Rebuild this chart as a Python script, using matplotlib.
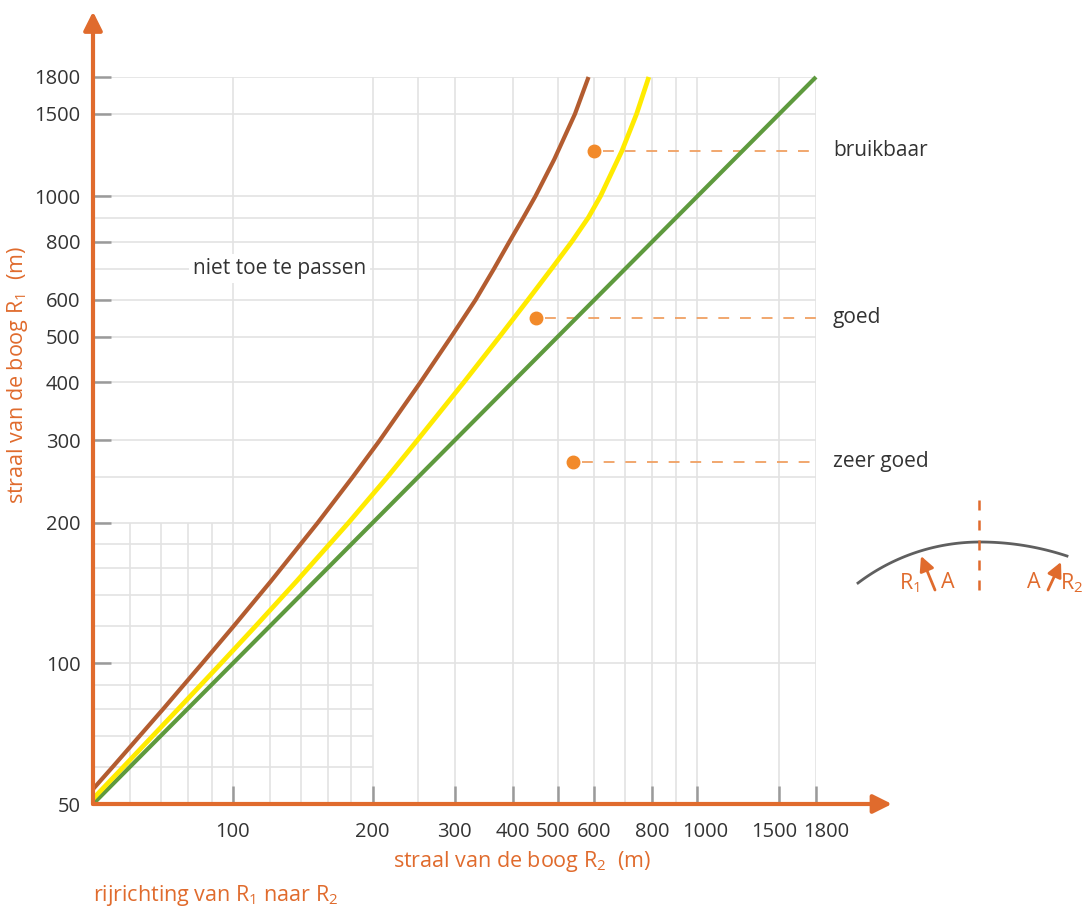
import numpy as np
import matplotlib
matplotlib.use('Agg')
import matplotlib.pyplot as plt
from matplotlib.lines import Line2D
from matplotlib.patches import FancyArrowPatch
from matplotlib.transforms import ScaledTranslation

plt.rcParams['font.family'] = ['Open Sans', 'DejaVu Sans']
plt.rcParams['mathtext.default'] = 'regular'

# data (R2 on x, R1 on y)
green_r2 = [50, 1800]
green_r1 = [50, 1800]

yellow_r1 = [51.3, 60, 80, 100, 120, 150, 200, 250, 300, 400, 500, 600, 700, 800, 900, 1000, 1250, 1500, 1800]
yellow_r2 = [50, 58.1, 76.4, 94.3, 111.8, 137.2, 177.4, 214.7, 249.3, 314.4, 374.8, 431.7, 485.6, 536.9, 582.3, 618.4, 687.7, 739.7, 786]

brown_r1 = [53.8, 60, 80, 100, 120, 150, 200, 250, 300, 400, 500, 600, 700, 800, 900, 1000, 1200, 1500, 1800]
brown_r2 = [50, 55.1, 70.9, 85.9, 100.3, 120.8, 152.3, 180.8, 207, 253.5, 295, 333, 365, 394, 422, 448, 492, 545, 583]

dot_r2 = [600, 450, 540]
dot_r1 = [1250, 550, 270]
dot_labels = ['bruikbaar', 'goed', 'zeer goed']

x_ticks = [100, 200, 300, 400, 500, 600, 800, 1000, 1500, 1800]
y_ticks = [50, 100, 200, 300, 400, 500, 600, 800, 1000, 1500, 1800]
major_grid = [100, 200, 250, 300, 400, 500, 600, 700, 800, 900, 1000, 1500, 1800]
minor_grid = [60, 70, 80, 90, 120, 140, 160, 180]

orange = '#E06B2D'
dot_col = '#F28A2A'
grid_col = '#E3E3E3'
txt_col = '#333333'

W, H = 1085, 910
fig = plt.figure(figsize=(W / 100, H / 100), dpi=100)
ax = fig.add_axes([93 / W, 1 - 804 / H, (816 - 93) / W, (804 - 77) / H])
ax.set_xscale('log')
ax.set_yscale('log')
ax.set_xlim(50, 1800)
ax.set_ylim(50, 1800)

# grid
for g in major_grid:
    ax.hlines(g, 50, 1800, color=grid_col, lw=1.2, zorder=0)
    ax.vlines(g, 50, 1800, color=grid_col, lw=1.2, zorder=0)
for g in minor_grid:
    xe = 250 if g == 160 else 200
    ax.hlines(g, 50, xe, color=grid_col, lw=1.2, zorder=0)
    ax.vlines(g, 50, 200, color=grid_col, lw=1.2, zorder=0)

# curves
kw = dict(solid_capstyle='butt', solid_joinstyle='round', zorder=3, clip_on=False)
ax.plot(green_r2, green_r1, color='#5E9A3E', lw=3.0, **kw)
ax.plot(yellow_r2, yellow_r1, color='#FFEB00', lw=3.4, **kw)
ax.plot(brown_r2, brown_r1, color='#B35C30', lw=3.0, **kw)

# quality points
for x, y, lab in zip(dot_r2, dot_r1, dot_labels):
    ax.plot([x * 1.045, 1800], [y, y], color='#F0A062', lw=1.3, dashes=(6, 6), zorder=2)
    ax.plot(x, y, 'o', color=dot_col, ms=9, zorder=4)
    ax.text(1.0235, y, lab, transform=ax.get_yaxis_transform(), fontsize=15,
            color=txt_col, va='center', ha='left')

ax.text(82, 700, 'niet toe te passen', fontsize=15, color=txt_col, va='center', ha='left',
        bbox=dict(facecolor='white', edgecolor='none', pad=3), zorder=2)

# ticks
ax.minorticks_off()
ax.set_xticks(x_ticks)
ax.set_xticklabels([str(t) for t in x_ticks])
ax.set_yticks(y_ticks)
ax.set_yticklabels([str(t) for t in y_ticks])
ax.tick_params(direction='in', length=13, width=1.8, color='#9A9A9A',
               labelcolor=txt_col, labelsize=14.5)
ax.tick_params(axis='x', pad=13)
ax.tick_params(axis='y', pad=9)

# nudge crowded x labels like the original
shift = {'500': -5, '1000': 8, '1500': -5, '1800': 10}
for lab in ax.get_xticklabels():
    dx = shift.get(lab.get_text(), 0)
    if dx:
        lab.set_transform(lab.get_transform() + ScaledTranslation(dx / 100, 0, fig.dpi_scale_trans))

for s in ax.spines.values():
    s.set_visible(False)

# axes with arrows
ax.annotate('', xy=(1.105, 0), xytext=(0, 0), xycoords='axes fraction',
            arrowprops=dict(arrowstyle='-|>', color=orange, lw=3, mutation_scale=28,
                            shrinkA=0, shrinkB=0))
ax.annotate('', xy=(0, 1.09), xytext=(0, 0), xycoords='axes fraction',
            arrowprops=dict(arrowstyle='-|>', color=orange, lw=3, mutation_scale=28,
                            shrinkA=0, shrinkB=0))

# axis titles
fig.text(522 / W, 1 - 862 / H, 'straal van de boog R$_2$  (m)', color=orange,
         fontsize=15.5, ha='center', va='center')
fig.text(18 / W, 1 - 375 / H, 'straal van de boog R$_1$  (m)', color=orange,
         fontsize=15.5, ha='center', va='center', rotation=90)
fig.text(93 / W, 1 - 896 / H, 'rijrichting van R$_1$ naar R$_2$', color=orange,
         fontsize=15.5, ha='left', va='center')

# small sketch of two bends
def fx(px):
    return px / W

def fy(py):
    return 1 - py / H

ax0, ay0 = 980, 542
r1, r2 = 202, 277
xl = np.linspace(858, ax0, 40)
yl = ay0 + (r1 - np.sqrt(r1 ** 2 - (xl - ax0) ** 2))
xr = np.linspace(ax0, 1067, 30)
yr = ay0 + (r2 - np.sqrt(r2 ** 2 - (xr - ax0) ** 2))
arc_x = np.concatenate([xl, xr])
arc_y = np.concatenate([yl, yr])
fig.add_artist(Line2D(fx(arc_x), fy(arc_y), color='#5F5F5F', lw=2))
fig.add_artist(Line2D([fx(979), fx(979)], [fy(500), fy(592)], color=orange, lw=1.8,
                      dashes=(4, 4)))
for (x0, y0, x1, y1) in [(935, 590, 921, 556), (1048, 590, 1061, 562)]:
    fig.add_artist(FancyArrowPatch((fx(x0), fy(y0)), (fx(x1), fy(y1)),
                                   transform=fig.transFigure, arrowstyle='-|>',
                                   mutation_scale=22, color=orange, lw=2,
                                   shrinkA=0, shrinkB=0))
for px, s in [(909, 'R$_1$'), (948, 'A'), (1034, 'A'), (1072, 'R$_2$')]:
    fig.text(fx(px), fy(583), s, color=orange, fontsize=15.5, ha='center', va='center')

fig.savefig('out.png', dpi=100)
